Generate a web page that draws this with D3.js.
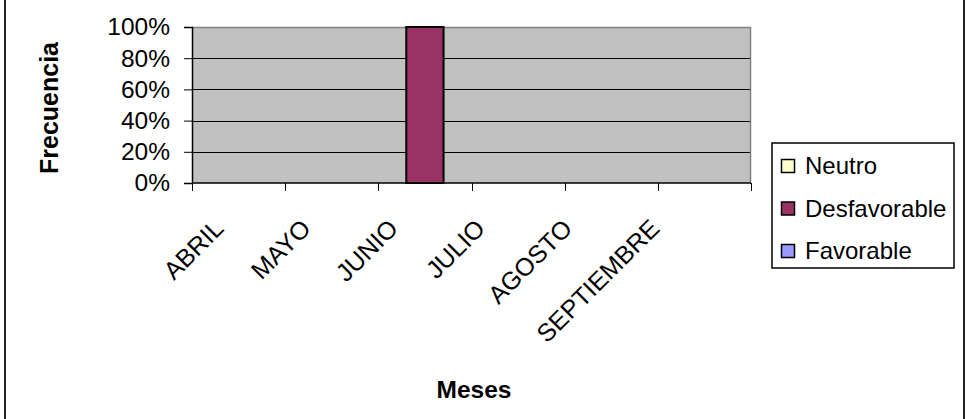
<!DOCTYPE html>
<html><head><meta charset="utf-8">
<script src="https://cdn.jsdelivr.net/npm/d3@7"></script>
<style>
html,body{margin:0;padding:0;background:#fff;}
svg{display:block;font-family:"Liberation Sans",Arial,sans-serif;}
</style></head>
<body>
<svg id="chart" width="968" height="419"></svg>
<script>
const months = ["ABRIL","MAYO","JUNIO","JULIO","AGOSTO","SEPTIEMBRE"];
const neutro = [0,0,0,0,0,0];
const desfavorable = [0,0,1,0,0,0];
const favorable = [0,0,0,0,0,0];
const seriesNames = ["Favorable","Desfavorable","Neutro"];
const seriesColors = {"Neutro":"#FFFFCC","Desfavorable":"#993366","Favorable":"#9999FF"};
const legendOrder = ["Neutro","Desfavorable","Favorable"];
const yTicks = [0,0.2,0.4,0.6,0.8,1];

const svg = d3.select("#chart");
const W = 968, H = 419;
const plot = {left:192, right:751, top:27, bottom:183};

// outer frame (only side edges visible)
svg.append("rect").attr("x",5).attr("y",-5).attr("width",959).attr("height",H+10)
  .attr("fill","none").attr("stroke","#222").attr("stroke-width",2);

const rows = months.map((m,i)=>({month:m, Neutro:neutro[i], Desfavorable:desfavorable[i], Favorable:favorable[i]}));
const stacked = d3.stack().keys(seriesNames).offset(d3.stackOffsetExpand)(rows);

const x = d3.scaleBand().domain(months).range([plot.left, plot.right]).padding(0);
const y = d3.scaleLinear().domain([0,1]).range([plot.bottom, plot.top]);
const labelX = d3.scalePoint().domain(months).range([225, 661]);

// plot background
svg.append("rect").attr("x",plot.left).attr("y",plot.top)
  .attr("width",plot.right-plot.left).attr("height",plot.bottom-plot.top)
  .attr("fill","#C0C0C0");

// gridlines
svg.append("g").selectAll("line").data(yTicks.filter(t=>t>0 && t<1)).join("line")
  .attr("x1",plot.left).attr("x2",plot.right)
  .attr("y1",d=>Math.round(y(d))+0.5).attr("y2",d=>Math.round(y(d))+0.5)
  .attr("stroke","#000").attr("stroke-width",1);

// plot border top/right
svg.append("path")
  .attr("d",`M${plot.left},${plot.top+0.5}H${plot.right-0.5}V${plot.bottom}`)
  .attr("fill","none").attr("stroke","#808080").attr("stroke-width",1.5);

// bars
const bw = x.bandwidth();
svg.append("g").selectAll("g").data(stacked).join("g")
  .attr("fill",d=>seriesColors[d.key])
  .selectAll("rect").data(d=>d.filter(p=>(p[1]-p[0])>0)).join("rect")
  .attr("x",d=>x(d.data.month)+bw*0.3)
  .attr("width",bw*0.4)
  .attr("y",d=>y(d[1]))
  .attr("height",d=>y(d[0])-y(d[1]))
  .attr("stroke","#000").attr("stroke-width",2);

// y axis
const yAxis = svg.append("g").attr("transform",`translate(${plot.left},0)`)
  .call(d3.axisLeft(y).tickValues(yTicks).tickFormat(d3.format(".0%")).tickSize(8).tickPadding(14));
yAxis.select(".domain").attr("stroke","#000").attr("stroke-width",1.5);
yAxis.selectAll(".tick line").attr("stroke","#000");
yAxis.selectAll("text").attr("font-size",24.5).attr("fill","#000")
  .attr("font-family","'Liberation Sans',Arial,sans-serif");

// x axis
const xAxisG = svg.append("g").attr("transform",`translate(0,${plot.bottom})`);
xAxisG.append("line").attr("x1",plot.left).attr("x2",plot.right).attr("y1",0).attr("y2",0)
  .attr("stroke","#000").attr("stroke-width",1.5);
const boundaries = months.map(m=>x(m)).concat([plot.right]);
xAxisG.selectAll("line.tk").data(boundaries).join("line").attr("class","tk")
  .attr("x1",d=>Math.round(d)+0.5).attr("x2",d=>Math.round(d)+0.5).attr("y1",0).attr("y2",8)
  .attr("stroke","#000");

svg.append("g").selectAll("text").data(months).join("text")
  .attr("transform",d=>`translate(${labelX(d)},${230}) rotate(-45)`)
  .attr("text-anchor","end")
  .attr("font-size",25).attr("fill","#000")
  .text(d=>d);

// axis titles
svg.append("text").attr("transform","translate(58,108) rotate(-90)")
  .attr("text-anchor","middle").attr("font-size",25).attr("font-weight","bold").text("Frecuencia");
svg.append("text").attr("x",474).attr("y",398)
  .attr("text-anchor","middle").attr("font-size",24.5).attr("font-weight","bold").text("Meses");

// legend
const lg = svg.append("g");
lg.append("rect").attr("x",772).attr("y",143).attr("width",182).attr("height",125)
  .attr("fill","#fff").attr("stroke","#000").attr("stroke-width",1.5);
const legY = d3.scalePoint().domain(legendOrder).range([166, 251]);
const items = lg.selectAll("g.it").data(legendOrder).join("g").attr("class","it")
  .attr("transform",d=>`translate(781,${legY(d)})`);
items.append("rect").attr("x",0.5).attr("y",-6.5).attr("width",13).attr("height",13)
  .attr("fill",d=>seriesColors[d]).attr("stroke","#000").attr("stroke-width",1.5);
items.append("text").attr("x",24).attr("y",0).attr("dy","0.35em")
  .attr("font-size",24).attr("fill","#000").text(d=>d);
</script>
</body></html>
